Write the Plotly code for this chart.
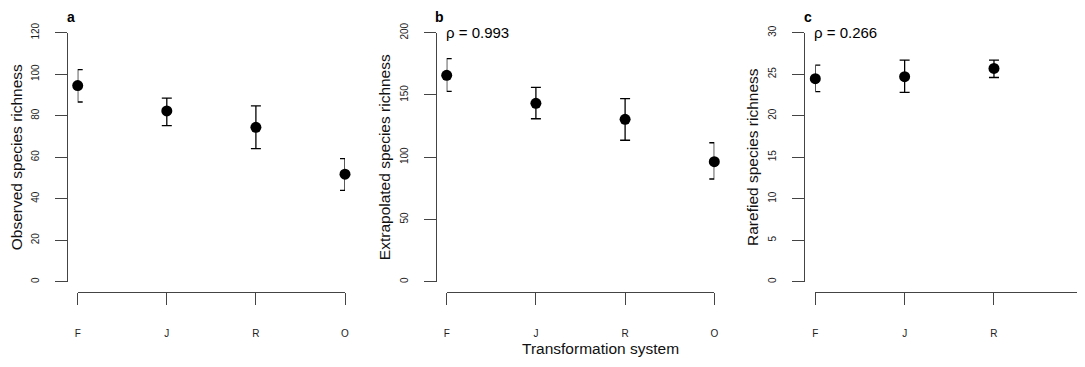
import plotly.graph_objects as go

# ---------------- data ----------------
categories = ["F", "J", "R", "O"]

obs_mean = [94.5, 82.3, 74.4, 51.8]
obs_upper = [102.2, 88.5, 84.7, 59.3]
obs_lower = [86.6, 75.2, 64.1, 44.0]

ext_mean = [165.8, 143.3, 130.4, 96.4]
ext_upper = [179.1, 156.1, 147.0, 111.6]
ext_lower = [152.9, 130.9, 113.6, 82.5]

rar_mean = [24.46, 24.7, 25.7, 22.05]
rar_upper = [26.1, 26.7, 26.7, 23.3]
rar_lower = [22.9, 22.8, 24.6, 21.0]

y_titles = ["Observed species richness", "Extrapolated species richness", "Rarefied species richness"]
y_max = [120, 200, 30]
y_step = [20, 50, 5]
panel_letters = ["a", "b", "c"]
rho_labels = [None, "ρ = 0.993", "ρ = 0.266"]
x_title = "Transformation system"

# ---------------- layout geometry (pixels in the page) ----------------
OFF = 8  # page body margin
W, H = 1085 - OFF, 367 - 2 * OFF
FONT = "Liberation Sans, Arial, Helvetica, sans-serif"
AX = "#444444"

# per panel: y-axis line x, first category x, last category x
panels_px = [(67.0, 77.7, 345.0), (436.0, 446.7, 714.3), (804.4, 815.3, 1083.3)]
y_top_px, y_bot_px = 32.7, 281.7
x_axis_px = 291.7

def px_x(p):
    return (p - OFF) / W

def px_y(p):
    return 1 - (p - OFF) / H

fig = go.Figure()
series = [(obs_mean, obs_upper, obs_lower), (ext_mean, ext_upper, ext_lower), (rar_mean, rar_upper, rar_lower)]

layout = {}
for i, (m, up, lo) in enumerate(series):
    k = "" if i == 0 else str(i + 1)
    xa, ya = "x" + k, "y" + k
    fig.add_trace(go.Scatter(
        x=categories, y=m, mode="markers",
        xaxis=xa, yaxis=ya, cliponaxis=False, showlegend=False,
        marker=dict(color="black", size=11),
        error_y=dict(type="data", symmetric=False,
                     array=[u - v for u, v in zip(up, m)],
                     arrayminus=[v - l for v, l in zip(m, lo)],
                     color="black", thickness=1.3, width=5),
    ))
    yl, xf, xo = panels_px[i]
    layout["xaxis" + k] = dict(
        type="category", categoryorder="array", categoryarray=categories,
        domain=[px_x(xf), px_x(xo)], range=[0, 3],
        anchor="free", position=px_y(x_axis_px), automargin=False,
        showline=True, linecolor=AX, linewidth=1.3,
        ticks="outside", ticklen=12, tickwidth=1.3, tickcolor=AX,
        ticklabelstandoff=20,
        tickfont=dict(family=FONT, size=10, color="#222222"),
        showgrid=False, zeroline=False, fixedrange=True,
    )
    layout["yaxis" + k] = dict(
        domain=[px_y(y_bot_px), px_y(y_top_px)], range=[0, y_max[i]],
        anchor="free", position=px_x(yl), automargin=False,
        tickmode="linear", tick0=0, dtick=y_step[i],
        showline=True, linecolor=AX, linewidth=1.3,
        ticks="outside", ticklen=12, tickwidth=1.3, tickcolor=AX,
        tickangle=-90, ticklabelstandoff=12,
        tickfont=dict(family=FONT, size=10, color="#222222"),
        title=dict(text=y_titles[i], font=dict(family=FONT, size=15.5, color="#111111"), standoff=3),
        showgrid=False, zeroline=False, fixedrange=True,
    )
    # panel letter
    fig.add_annotation(x="F", y=y_max[i], xref=xa, yref=ya, text="<b>" + panel_letters[i] + "</b>",
                       showarrow=False, xanchor="center", yanchor="middle",
                       xshift=-7, yshift=16, font=dict(family=FONT, size=14, color="black"))
    if rho_labels[i]:
        fig.add_annotation(x="F", y=y_max[i], xref=xa, yref=ya, text=rho_labels[i],
                           showarrow=False, xanchor="left", yanchor="middle",
                           xshift=-3, yshift=0, font=dict(family=FONT, size=15, color="black"))

fig.add_annotation(x=px_x(600), y=px_y(348), xref="paper", yref="paper", text=x_title,
                   showarrow=False, xanchor="center", yanchor="middle",
                   font=dict(family=FONT, size=15.5, color="#111111"))

fig.update_layout(
    width=W, height=H,
    margin=dict(l=0, r=0, t=0, b=0, autoexpand=False),
    paper_bgcolor="white", plot_bgcolor="white",
    showlegend=False,
    **layout,
)

fig.write_html("out.html")
